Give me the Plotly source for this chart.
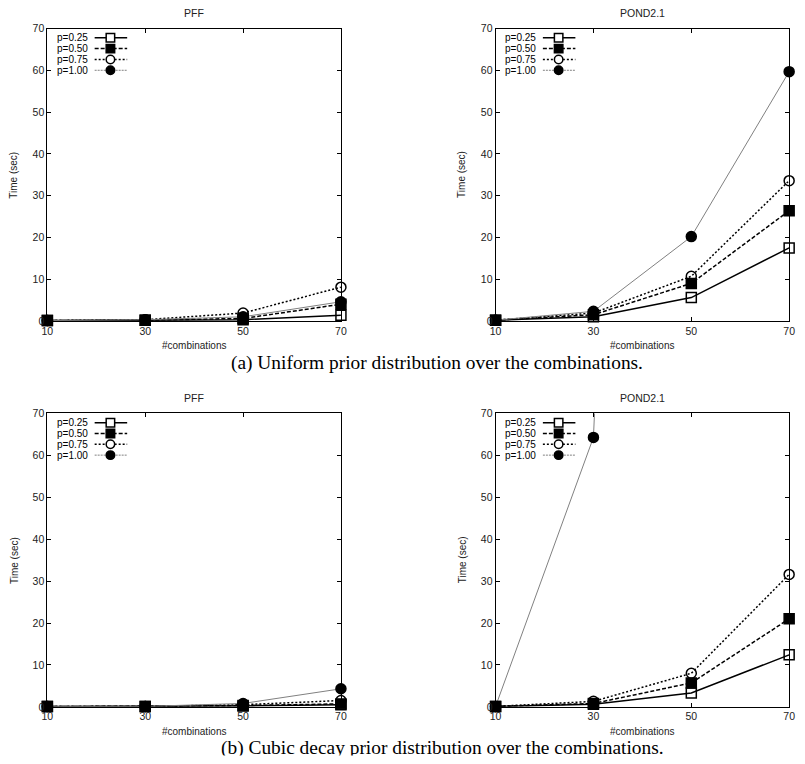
import plotly.graph_objects as go

W, H = 805, 764

combinations = [10, 30, 50, 70]
series_names = ["p=0.25", "p=0.50", "p=0.75", "p=1.00"]
y_ticks = [0, 10, 20, 30, 40, 50, 60, 70]

# (a) Uniform prior - PFF
pff_uni_p025 = [0.1, 0.2, 0.3, 1.4]
pff_uni_p050 = [0.1, 0.2, 0.6, 4.0]
pff_uni_p075 = [0.1, 0.3, 1.9, 8.1]
pff_uni_p100 = [0.1, 0.3, 1.0, 4.6]
# (a) Uniform prior - POND2.1
pond_uni_p025 = [0.2, 1.0, 5.6, 17.5]
pond_uni_p050 = [0.2, 1.5, 9.0, 26.4]
pond_uni_p075 = [0.2, 1.9, 10.7, 33.6]
pond_uni_p100 = [0.2, 2.3, 20.2, 59.7]
# (b) Cubic decay prior - PFF
pff_cub_p025 = [0.05, 0.1, 0.2, 0.5]
pff_cub_p050 = [0.05, 0.1, 0.3, 0.7]
pff_cub_p075 = [0.05, 0.1, 0.5, 1.5]
pff_cub_p100 = [0.05, 0.1, 0.8, 4.3]
# (b) Cubic decay prior - POND2.1 (p=1.00 at 50 is far off the chart)
pond_cub_p025 = [0.1, 0.6, 3.3, 12.4]
pond_cub_p050 = [0.1, 0.8, 5.7, 21.0]
pond_cub_p075 = [0.1, 1.3, 8.0, 31.6]
pond_cub_p100 = [0.1, 64.3, 600.0, None]

titles = ["PFF", "POND2.1", "PFF", "POND2.1"]
captions = ["(a) Uniform prior distribution over the combinations.",
            "(b) Cubic decay prior distribution over the combinations."]

panels = [
    [pff_uni_p025, pff_uni_p050, pff_uni_p075, pff_uni_p100],
    [pond_uni_p025, pond_uni_p050, pond_uni_p075, pond_uni_p100],
    [pff_cub_p025, pff_cub_p050, pff_cub_p075, pff_cub_p100],
    [pond_cub_p025, pond_cub_p050, pond_cub_p075, pond_cub_p100],
]

# styles
line_colors = ["black", "black", "black", "#808080"]
line_dash = ["solid", "4px,2px", "2px,2px", "solid"]
key_dash = ["solid", "4px,2px", "2px,2px", "2px,1px"]
line_width = [1.5, 1.5, 1.5, 1.0]
marker_symbols = ["square-open", "square", "circle-open", "circle"]
marker_fill = ["white", "black", "white", "black"]

# panel pixel boxes: (left, right, top, bottom)
boxes = [(42, 340, 23, 320), (497, 795, 23, 320),
         (42, 340, 414, 712), (497, 795, 414, 712)]


def px(x):
    return x / W


def py(y):
    return 1 - y / H


fig = go.Figure()
annotations = []
shapes = []
font_sans = "Liberation Sans, Arial, sans-serif"
key_step = 11.0
key_base_font = key_step / 1.3

for i, (series, box) in enumerate(zip(panels, boxes)):
    l, r, t, b = box
    sfx = "" if i == 0 else str(i + 1)
    xa, ya = "x" + sfx, "y" + sfx
    for k, vals in enumerate(series):
        fig.add_trace(go.Scatter(
            x=combinations, y=vals, xaxis=xa, yaxis=ya,
            mode="lines", name=series_names[k], showlegend=False,
            line=dict(color=line_colors[k], dash=line_dash[k], width=line_width[k]),
        ))
    for k, vals in enumerate(series):
        fig.add_trace(go.Scatter(
            x=combinations, y=[v if (v is not None and v <= 70) else None for v in vals],
            xaxis=xa, yaxis=ya,
            mode="markers", name=series_names[k], showlegend=False,
            cliponaxis=False,
            marker=dict(symbol=marker_symbols[k], size=10, color="black",
                        line=dict(color="black", width=1.5)),
        ))
    axcommon = dict(showline=True, linecolor="black", linewidth=1, mirror="allticks",
                    ticks="inside", ticklen=4, tickcolor="black", showgrid=False,
                    zeroline=False, tickfont=dict(family=font_sans, size=10.5, color="#222"))
    fig.update_layout(**{
        "xaxis" + sfx: dict(domain=[px(l), px(r)], range=[10, 70], tickvals=combinations,
                            anchor=ya, **axcommon),
        "yaxis" + sfx: dict(domain=[py(b), py(t)], range=[0, 70], tickvals=y_ticks,
                            anchor=xa, **axcommon),
    })
    cx = (l + r) / 2
    annotations.append(dict(text=titles[i], x=px(cx), y=py(t - 16), xref="paper", yref="paper",
                            showarrow=False, font=dict(family=font_sans, size=10.5, color="#222"),
                            xanchor="center", yanchor="middle"))
    annotations.append(dict(text="#combinations", x=px(cx), y=py(b + 25), xref="paper",
                            yref="paper", showarrow=False,
                            font=dict(family=font_sans, size=10, color="#222"),
                            xanchor="center", yanchor="middle"))
    annotations.append(dict(text="Time (sec)", x=px(l - 34), y=py((t + b) / 2), xref="paper",
                            yref="paper", showarrow=False, textangle=-90,
                            font=dict(family=font_sans, size=10, color="#222"),
                            xanchor="center", yanchor="middle"))
    # legend (key) drawn in the top-left corner of each panel
    row0 = t + 9.3
    key_text = "<br>".join("<span style='font-size:10px'>%s</span>" % n for n in series_names)
    annotations.append(dict(text=key_text, x=px(l + 42),
                            y=py(row0 + key_step * 1.5), xref="paper", yref="paper",
                            showarrow=False, xanchor="right", yanchor="middle", align="right",
                            borderpad=0,
                            font=dict(family=font_sans, size=key_base_font, color="black")))
    for k in range(len(series_names)):
        ry = row0 + key_step * k
        shapes.append(dict(type="line", xref="paper", yref="paper",
                           x0=px(l + 48), x1=px(l + 81), y0=py(ry), y1=py(ry),
                           line=dict(color=line_colors[k], dash=key_dash[k],
                                     width=line_width[k])))
        mk = "rect" if "square" in marker_symbols[k] else "circle"
        shapes.append(dict(type=mk, xref="paper", yref="paper",
                           x0=px(l + 64 - 4.3), x1=px(l + 64 + 4.3), y0=py(ry + 4.3),
                           y1=py(ry - 4.3),
                           fillcolor=marker_fill[k], line=dict(color="black", width=1.5)))

# captions: (a) between the rows, (b) at the bottom edge (cut off by the page edge)
cap_font = dict(family="Liberation Serif, Times New Roman, serif", size=19.4, color="black")
annotations.append(dict(text=captions[0], x=px(438), y=py(363), xref="paper", yref="paper",
                        showarrow=False, xanchor="center", yanchor="middle", font=cap_font))
annotations.append(dict(text=captions[1], x=px(443), y=0, xref="paper", yref="paper",
                        showarrow=False, xanchor="center", yanchor="bottom",
                        height=18.5, valign="top", borderpad=1, font=cap_font))

fig.update_layout(width=W, height=H, margin=dict(l=0, r=0, t=0, b=0),
                  paper_bgcolor="white", plot_bgcolor="white",
                  annotations=annotations, shapes=shapes, showlegend=False)

fig.write_html("out.html")
